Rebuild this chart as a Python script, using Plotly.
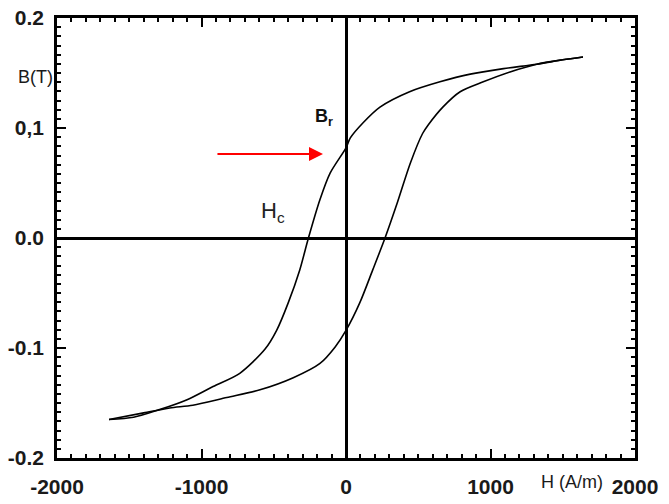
import plotly.graph_objects as go

# Descending branch (from +saturation to -saturation)
H_down = [1640, 1500, 1320, 1090, 860, 650, 440, 235, 120, 30, 0, -110, -180, -260,
          -320, -400, -480, -560, -735, -920, -1100, -1290, -1470, -1640]
B_down = [0.1645, 0.162, 0.158, 0.154, 0.149, 0.142, 0.133, 0.119, 0.105, 0.091, 0.082,
          0.059, 0.035, 0.0, -0.029, -0.059, -0.084, -0.101, -0.123, -0.135,
          -0.147, -0.156, -0.163, -0.165]

# Ascending branch (from -saturation to +saturation)
H_up = [-1640, -1400, -1220, -1060, -825, -595, -365, -180, -75, 0, 95, 185, 270, 355,
        445, 530, 570, 670, 790, 950, 1135, 1320, 1500, 1640]
B_up = [-0.165, -0.159, -0.1545, -0.152, -0.145, -0.138, -0.127, -0.114, -0.099, -0.084,
        -0.059, -0.029, 0.0, 0.032, 0.068, 0.095, 0.103, 0.119, 0.133, 0.142, 0.151,
        0.158, 0.162, 0.1645]

x_tickvals = [-2000, -1000, 0, 1000, 2000]
x_ticktext = ["-2000", "-1000", "0", "1000", "2000"]
y_tickvals = [-0.2, -0.1, 0.0, 0.1, 0.2]
y_ticktext = ["-0.2", "-0.1", "0.0", "0,1", "0.2"]

x_title = "H (A/m)"
y_title = "B(T)"
label_Br = "B<sub>r</sub>"
label_Hc = "H<sub>c</sub>"

FONT = "Liberation Sans, Arial, sans-serif"

fig = go.Figure()
for hx, by in ((H_down, B_down), (H_up, B_up)):
    fig.add_trace(go.Scatter(x=hx, y=by, mode="lines",
                             line=dict(color="black", width=1.6, shape="spline", smoothing=0.8),
                             showlegend=False, hoverinfo="skip"))

axis_common = dict(
    showgrid=False, automargin=False, ticklabeloverflow="allow",
    showline=True, linecolor="black", linewidth=2.5, mirror="allticks",
    ticks="inside", ticklen=9, tickwidth=2, tickcolor="black",
    zeroline=True, zerolinecolor="black", zerolinewidth=3,
    tickfont=dict(family=FONT, size=21, color="#1a1a1a", weight="bold"),
)

fig.update_xaxes(range=[-2000, 2000], tickmode="array", tickvals=x_tickvals,
                 ticktext=x_ticktext, ticklabelstandoff=8,
                 minor=dict(dtick=100, ticklen=4, tickwidth=1.5, tickcolor="black", ticks="inside"),
                 **axis_common)
fig.update_yaxes(range=[-0.2, 0.2], tickmode="array", tickvals=y_tickvals,
                 ticktext=y_ticktext, ticklabelstandoff=6,
                 minor=dict(dtick=0.1 / 12, ticklen=4, tickwidth=1.5, tickcolor="black", ticks="inside"),
                 **axis_common)

annotations = [
    dict(text=x_title, x=1564, xref="x", y=-0.055, yref="paper", showarrow=False,
         font=dict(family=FONT, size=18, color="#1a1a1a"), xanchor="center", yanchor="middle"),
    dict(text=y_title, x=-0.038, xref="paper", y=0.146, yref="y", showarrow=False,
         font=dict(family=FONT, size=18, color="#1a1a1a"), xanchor="center", yanchor="middle"),
    dict(text=label_Br, x=-152, y=0.110, xref="x", yref="y", showarrow=False,
         font=dict(family=FONT, size=18, color="#111111", weight="bold")),
    dict(text=label_Hc, x=-505, y=0.0236, xref="x", yref="y", showarrow=False,
         font=dict(family=FONT, size=22, color="#222222")),
    dict(text="", x=-159, y=0.0764, xref="x", yref="y", ax=-900, ay=0.0764,
         axref="x", ayref="y", showarrow=True, arrowhead=2, arrowsize=1.4,
         arrowwidth=2, arrowcolor="#ff0000"),
]

fig.update_layout(
    width=669, height=504,
    margin=dict(l=57, r=34, t=18, b=46, autoexpand=False),
    paper_bgcolor="white", plot_bgcolor="white",
    annotations=annotations,
    font=dict(family=FONT),
)

# remove the page's default body margin so the figure fills the window exactly
fig.write_html("out.html",
               config={"displayModeBar": False},
               post_script="document.body.style.margin='0';document.body.style.overflow='hidden';")
